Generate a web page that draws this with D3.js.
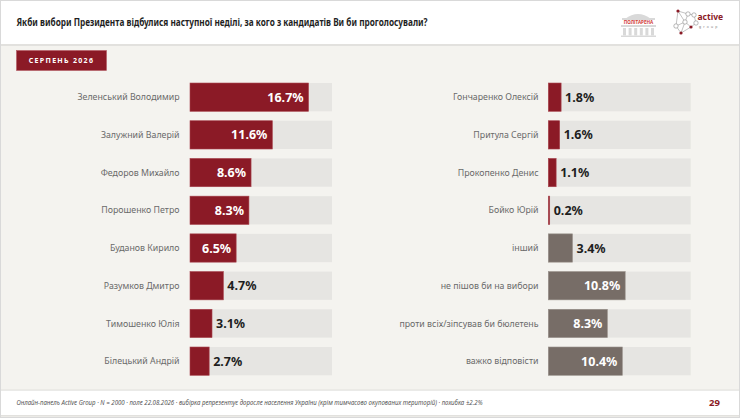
<!DOCTYPE html>
<html>
<head>
<meta charset="utf-8">
<script src="https://cdn.jsdelivr.net/npm/d3@7"></script>
<style>
  body { margin: 0; background: #fff; }
  svg { display: block; font-family: "Noto Sans", "Open Sans", sans-serif; }
</style>
</head>
<body>
<svg id="chart" width="740" height="418"></svg>
<script>
// chart data
var title = "Якби вибори Президента відбулися наступної неділі, за кого з кандидатів Ви би проголосували?";
var badgeText = "СЕРПЕНЬ 2026";
var footNote = "Онлайн-панель Active Group · N = 2000 · поле 22.08.2026 · вибірка репрезентує доросле населення України (крім тимчасово окупованих територій) · похибка ±2.2%";
var pageNo = "29";

var leftNames = ["Зеленський Володимир", "Залужний Валерій", "Федоров Михайло", "Порошенко Петро",
                 "Буданов Кирило", "Разумков Дмитро", "Тимошенко Юлія", "Білецький Андрій"];
var leftValues = [16.7, 11.6, 8.6, 8.3, 6.5, 4.7, 3.1, 2.7];

var rightNames = ["Гончаренко Олексій", "Притула Сергій", "Прокопенко Денис", "Бойко Юрій",
                  "інший", "не пішов би на вибори", "проти всіх/зіпсував би бюлетень", "важко відповісти"];
var rightValues = [1.8, 1.6, 1.1, 0.2, 3.4, 10.8, 8.3, 10.4];
var rightKinds = ["candidate", "candidate", "candidate", "candidate", "other", "other", "other", "other"];

var maxValue = 20;

var colors = { candidate: "#8b1a26", other: "#776d67", track: "#e6e5e2" };

var svg = d3.select("#chart");

// page background + header / footer panels
svg.append("rect").attr("x", 0).attr("y", 0).attr("width", 740).attr("height", 418).attr("fill", "#f4f3ef");
svg.append("rect").attr("x", 0).attr("y", 0).attr("width", 740).attr("height", 45).attr("fill", "#fff");
svg.append("rect").attr("x", 0).attr("y", 44).attr("width", 740).attr("height", 2).attr("fill", "#e2e1de");
svg.append("rect").attr("x", 0).attr("y", 390).attr("width", 740).attr("height", 25).attr("fill", "#fff");
svg.append("rect").attr("x", 0).attr("y", 389.5).attr("width", 740).attr("height", 1.2).attr("fill", "#e2e1de");
svg.append("rect").attr("x", 0).attr("y", 415).attr("width", 740).attr("height", 1.5).attr("fill", "#e2e1de");
svg.append("rect").attr("x", 0.5).attr("y", 0.5).attr("width", 739).attr("height", 417)
    .attr("fill", "none").attr("stroke", "#d9d9d9");

svg.append("text")
    .attr("x", 16.5).attr("y", 25.5)
    .attr("textLength", 411).attr("lengthAdjust", "spacingAndGlyphs")
    .style("font", "bold 10.5px 'Noto Sans', sans-serif")
    .attr("fill", "#1f1f1f")
    .text(title);

// badge
svg.append("rect").attr("x", 16.5).attr("y", 50.5).attr("width", 90).attr("height", 20)
    .attr("fill", colors.candidate).attr("stroke", "#b35a63").attr("stroke-width", 0.6);
svg.append("text")
    .attr("x", 61.5).attr("y", 61).attr("dy", "0.35em")
    .attr("text-anchor", "middle")
    .style("font", "bold 7px 'Noto Sans', sans-serif")
    .style("letter-spacing", "1.3px")
    .attr("fill", "#fff")
    .text(badgeText);

// footer
svg.append("text")
    .attr("x", 16.5).attr("y", 403).attr("dy", "0.35em")
    .attr("textLength", 466).attr("lengthAdjust", "spacingAndGlyphs")
    .style("font", "italic 6.5px 'Noto Sans', sans-serif")
    .attr("fill", "#555")
    .text(footNote);
svg.append("text")
    .attr("x", 714.5).attr("y", 403).attr("dy", "0.35em")
    .attr("text-anchor", "middle")
    .style("font", "bold 9.5px 'Noto Sans', sans-serif")
    .attr("fill", colors.candidate)
    .text(pageNo);

// logos (rough drawings)
var logo1 = svg.append("g").attr("transform", "translate(621,10)");
logo1.append("path").attr("d", "M4,9 Q17,-1 30,9 Z").attr("fill", "#d9d9d9");
logo1.append("rect").attr("x", 1).attr("y", 8).attr("width", 33).attr("height", 2).attr("fill", "#d9d9d9");
logo1.append("rect").attr("x", 0).attr("y", 15).attr("width", 35).attr("height", 2).attr("fill", "#d9d9d9");
d3.range(6).forEach(function (i) {
    logo1.append("rect").attr("x", 2 + i * 5.6).attr("y", 18).attr("width", 3).attr("height", 7.5).attr("fill", "#d9d9d9");
});
logo1.append("rect").attr("x", 0).attr("y", 25.5).attr("width", 35).attr("height", 1.5).attr("fill", "#d9d9d9");
logo1.append("text").attr("x", 17.5).attr("y", 12).attr("dy", "0.35em").attr("text-anchor", "middle")
    .style("font", "bold 4.6px 'Noto Sans', sans-serif").attr("fill", "#d03a3a").text("ПОЛІТАРЕНА");

var logo2 = svg.append("g").attr("transform", "translate(672,10)");
var nodes = [[6, 1], [16, 4], [22, 5], [13, 12], [4, 16], [19, 17], [9, 23], [24, 13]];
var links = [[0, 1], [1, 2], [1, 3], [0, 4], [3, 4], [3, 5], [4, 6], [6, 5], [5, 7], [2, 7], [0, 3], [6, 3]];
links.forEach(function (l) {
    logo2.append("line")
        .attr("x1", nodes[l[0]][0]).attr("y1", nodes[l[0]][1])
        .attr("x2", nodes[l[1]][0]).attr("y2", nodes[l[1]][1])
        .attr("stroke", "#9a9a9a").attr("stroke-width", 0.6);
});
nodes.forEach(function (n, i) {
    var red = (i === 0 || i === 5 || i === 6);
    logo2.append("circle").attr("cx", n[0]).attr("cy", n[1]).attr("r", red ? 1.6 : 2.2)
        .attr("fill", red ? colors.candidate : "#fff").attr("stroke", red ? "none" : "#8a8a8a").attr("stroke-width", 0.6);
});
svg.append("text").attr("x", 697.5).attr("y", 17).attr("dy", "0.35em")
    .style("font", "bold 8.5px 'Noto Sans', sans-serif").attr("fill", colors.candidate).text("active");
svg.append("text").attr("x", 699).attr("y", 26.5).attr("dy", "0.35em")
    .style("font", "3.4px 'Noto Sans', sans-serif").style("letter-spacing", "2.2px").attr("fill", "#777").text("group");

// bar scales
var y = d3.scaleBand()
    .domain(d3.range(leftNames.length))
    .range([78.3, 380])
    .paddingInner(0.25)
    .paddingOuter(0.125);

function drawColumn(names, values, kinds, x0, x1, labelX) {
    var x = d3.scaleLinear().domain([0, maxValue]).range([x0, x1]);
    var rows = svg.append("g").selectAll("g")
        .data(names.map(function (n, i) { return { name: n, value: values[i], kind: kinds[i] }; }))
        .enter()
        .append("g")
        .attr("transform", function (d, i) { return "translate(0," + y(i) + ")"; });

    rows.append("rect")
        .attr("x", x(0)).attr("width", x(maxValue) - x(0))
        .attr("height", y.bandwidth())
        .attr("fill", colors.track);

    rows.append("rect")
        .attr("x", x(0)).attr("width", function (d) { return x(d.value) - x(0); })
        .attr("height", y.bandwidth())
        .attr("fill", function (d) { return colors[d.kind]; })
        .attr("stroke", function (d) { return d.kind === "other" ? "#9a928c" : "#a8454f"; })
        .attr("stroke-width", 0.6);

    rows.append("text")
        .attr("x", labelX).attr("y", y.bandwidth() / 2).attr("dy", "0.35em")
        .attr("text-anchor", "end")
        .style("font", "8.8px 'Noto Sans', sans-serif")
        .attr("fill", "#6a6a6a")
        .text(function (d) { return d.name; });

    rows.append("text")
        .attr("x", function (d) { return d.value >= 5 ? x(d.value) - 5 : x(d.value) + 4; })
        .attr("y", y.bandwidth() / 2).attr("dy", "0.36em")
        .attr("text-anchor", function (d) { return d.value >= 5 ? "end" : "start"; })
        .style("font", "bold 12.5px 'Noto Sans', sans-serif")
        .attr("fill", function (d) { return d.value >= 5 ? "#fff" : "#1e1e1e"; })
        .text(function (d) { return d.value.toFixed(1) + "%"; });
}

drawColumn(leftNames, leftValues, leftNames.map(function () { return "candidate"; }), 190, 332, 179.5);
drawColumn(rightNames, rightValues, rightKinds, 548.3, 690.7, 538.5);
</script>
</body>
</html>
